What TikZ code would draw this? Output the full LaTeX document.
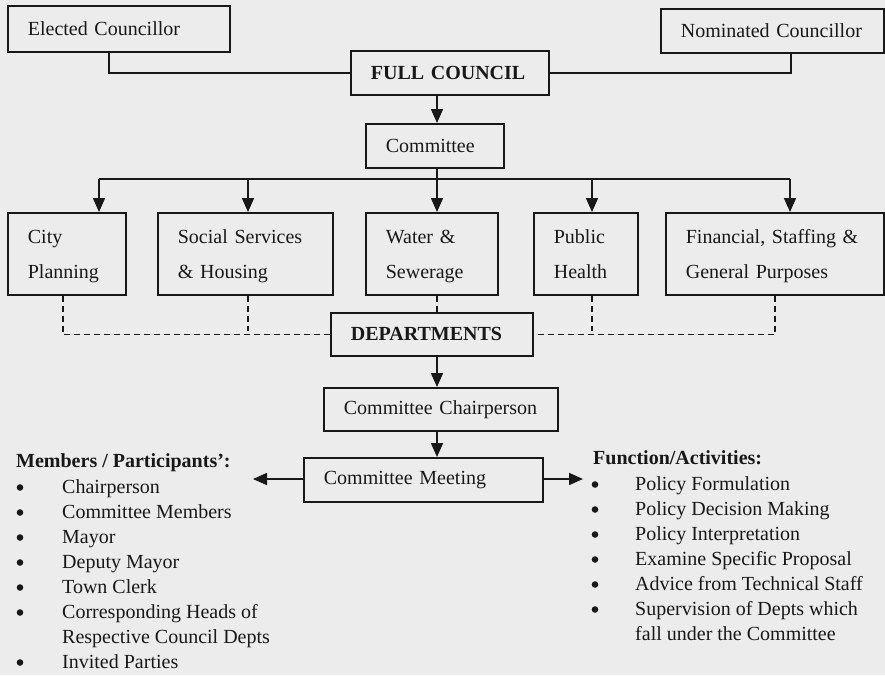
\documentclass[tikz,border=0pt]{standalone}
\usepackage{fontspec}
\setmainfont{Liberation Serif}
\usetikzlibrary{arrows.meta}
\definecolor{bg}{RGB}{236,236,236}
\definecolor{ink}{RGB}{24,24,24}
\begin{document}
\begin{tikzpicture}[x=1pt,y=-1pt,
  every node/.style={text=ink, font=\fontsize{20}{24}\selectfont},
  box/.style={draw=ink, line width=1.7pt, inner xsep=20pt, inner ysep=0pt, align=left, anchor=north west},
  twoline/.style={box, minimum height=82pt, font=\fontsize{20}{35}\selectfont},
  conn/.style={draw=ink, line width=1.7pt},
  arr/.style={conn, -{Triangle[length=14pt,width=12pt]}},
  dashline/.style={draw=ink, line width=1.5pt, dash pattern=on 6pt off 4pt},
  heading/.style={anchor=west, font=\bfseries\fontsize{20}{24}\selectfont, inner sep=0pt},
  listnode/.style={anchor=base west, inner sep=0pt, font=\fontsize{20}{25}\selectfont},
  dot/.style={fill=ink}
]
\fill[bg] (0,0) rectangle (885,675);
\useasboundingbox (0,0) rectangle (885,675);

% top row
\node[box, text width=182pt, minimum height=46pt] (el) at (7,5) {Elected Councillor};
\node[box, text width=158pt, minimum height=44pt, font=\bfseries\fontsize{20}{24}\selectfont] (fc) at (350,50) {FULL COUNCIL};
\node[box, text width=183pt, minimum height=44pt] (nc) at (660,8) {Nominated Councillor};
\node[box, text width=98pt, minimum height=44pt] (cm) at (365,123) {Committee};

% committees
\node[twoline, text width=78pt] (city) at (7,212) {\strut City\\\strut Planning};
\node[twoline, text width=135pt] (soc) at (157,212) {\strut Social Services\\\strut\& Housing};
\node[twoline, text width=92pt] (wat) at (365,212) {\strut Water \&\\\strut Sewerage};
\node[twoline, text width=64pt] (pub) at (533,212) {\strut Public\\\strut Health};
\node[twoline, text width=178pt] (fin) at (665,212) {\strut Financial, Staffing \&\\\strut General Purposes};

% lower chain
\node[box, text width=162pt, minimum height=43pt, font=\bfseries\fontsize{20}{24}\selectfont] (dep) at (330,312) {DEPARTMENTS};
\node[box, text width=194pt, minimum height=43pt] (ch) at (323,387) {Committee Chairperson};
\node[box, text width=199pt, minimum height=44pt] (mt) at (303,457) {Committee Meeting};

% coordinates
\coordinate (spine) at (437,0);
\coordinate (busL) at (99,179);
\coordinate (b2) at (248,179);
\coordinate (b4) at (592,179);
\coordinate (busR) at (790,179);
\coordinate (d1) at (63,331);
\coordinate (d2) at (248,331);
\coordinate (d4) at (592,331);
\coordinate (d5) at (775,331);
\coordinate (ml) at (253,479);
\coordinate (mr) at (583,479);

% councillors to full council
\draw[conn] ([xshift=-10pt]el.south) |- (fc.west);
\draw[conn] ([xshift=18.5pt]nc.south) |- (fc.east);
\draw[arr] (fc.south -| spine) -- (cm.north -| spine);

% bus
\draw[conn] (cm.south -| spine) -- (spine |- busL);
\draw[conn] (busL) -- (busR);
\draw[dashline] (busL) -- ([yshift=-6pt]busL);
\draw[arr] ([yshift=-6pt]busL) -- (city.north -| busL);
\draw[dashline] (b2) -- ([yshift=-6pt]b2);
\draw[arr] ([yshift=-6pt]b2) -- (soc.north -| b2);
\draw[arr] (spine |- busL) -- (wat.north -| spine);
\draw[dashline] (b4) -- ([yshift=-6pt]b4);
\draw[arr] ([yshift=-6pt]b4) -- (pub.north -| b4);
\draw[arr] (busR) -- (fin.north -| busR);

% dashed links to departments
\draw[dashline] (city.south -| d1) |- (dep.west);
\draw[dashline] (soc.south -| d2) -- (d2);
\draw[dashline] (wat.south -| spine) -- (dep.north -| spine);
\draw[dashline] (fin.south -| d5) |- (dep.east);
\draw[dashline] (pub.south -| d4) -- (d4);

% chain
\draw[arr] (dep.south -| spine) -- (ch.north -| spine);
\draw[arr] (ch.south -| spine) -- (mt.north -| spine);
\draw[arr] (mt.west |- ml) -- (ml);
\draw[arr] (mt.east |- mr) -- (mr);

% lists
\node[heading] (mh) at (16,463) {Members / Participants':};
\node[listnode] (mlist) at (62,493) {\begin{tabular}[t]{@{}l@{}}
Chairperson\\
Committee Members\\
Mayor\\
Deputy Mayor\\
Town Clerk\\
Corresponding Heads of\\
Respective Council Depts\\
Invited Parties
\end{tabular}};
\foreach \k in {0,1,2,3,4,5,7}
  \fill[dot] (20,487.5+25*\k) circle (3.3pt);

\node[heading] (fh) at (593,458) {Function/Activities:};
\node[listnode] (flist) at (635,490) {\begin{tabular}[t]{@{}l@{}}
Policy Formulation\\
Policy Decision Making\\
Policy Interpretation\\
Examine Specific Proposal\\
Advice from Technical Staff\\
Supervision of Depts which\\
fall under the Committee
\end{tabular}};
\foreach \k in {0,...,5}
  \fill[dot] (595,484.5+25*\k) circle (3.3pt);
\end{tikzpicture}
\end{document}
